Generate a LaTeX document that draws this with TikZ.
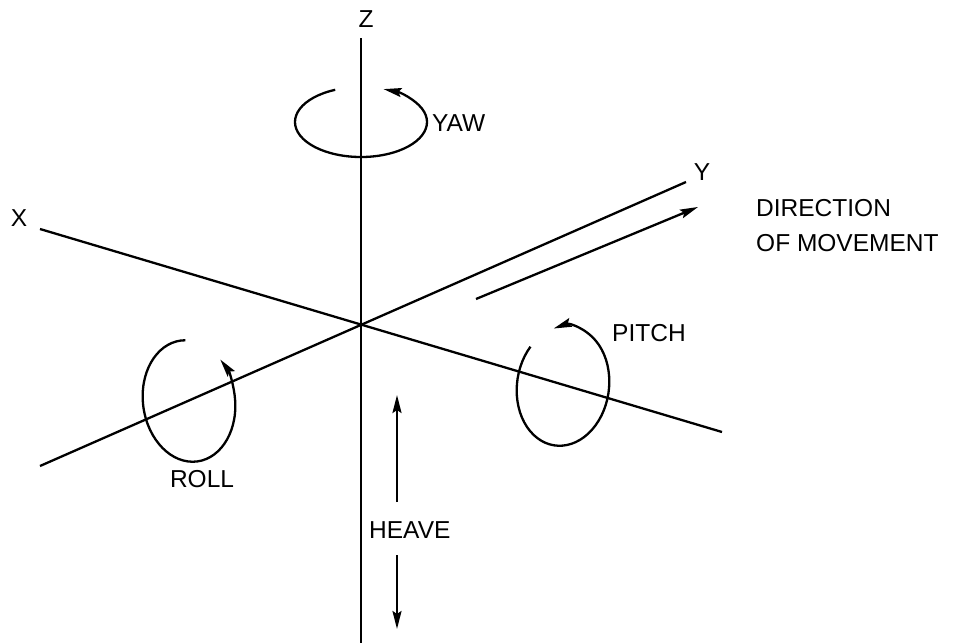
\documentclass[tikz,border=0pt]{standalone}
\usepackage{fontspec}
\setmainfont{Liberation Sans}
\usetikzlibrary{arrows.meta,calc}
\begin{document}
\begin{tikzpicture}[x=1pt,y=1pt,
  axis/.style={line width=2.3pt},
  lbl/.style={inner sep=0pt, font=\fontsize{24.5}{35}\selectfont},
  tip/.style={-{Stealth[length=18pt,width=9pt,inset=3pt]}},
  rot/.style={line width=2.3pt}]
\useasboundingbox (0,0) rectangle (954,-643);
% axes
\coordinate (O) at (361,-323);
\coordinate (Ztop) at (361,-38);
\coordinate (Zbot) at (361,-643);
\coordinate (Xend) at (40,-229);
\coordinate (Xneg) at (722,-432);
\coordinate (Yend) at (686,-182);
\coordinate (Yneg) at (40,-466);
\draw[axis] (Ztop) -- (Zbot);
\draw[axis] (Xend) -- (Xneg);
\draw[axis] (Yend) -- (Yneg);
% axis labels
\node[lbl] (zl) at (366,-19) {Z};
\node[lbl] (xl) at (19,-218) {X};
\node[lbl] (yl) at (702,-172) {Y};
% direction of movement
\coordinate (m1) at (476,-299);
\coordinate (m2) at (698,-207);
\draw[axis,tip] (m1) -- (m2);
\node[lbl, anchor=west, align=left] (dm) at (756,-226) {DIRECTION\\OF MOVEMENT};
% yaw
\coordinate (Yc) at (361,-122);
\draw[rot,tip] ($(Yc)+(113:66pt and 35pt)$) arc[start angle=113,end angle=430,x radius=66pt,y radius=35pt];
\node[lbl, anchor=west] (yaw) at (432,-123) {YAW};
% roll
\coordinate (Rc) at (189,-401);
\begin{scope}[shift={(Rc)}, rotate=8]
\draw[rot,tip] (84:46pt and 61pt) arc[start angle=84,end angle=397,x radius=46pt,y radius=61pt];
\end{scope}
\node[lbl] (roll) at (202,-479) {ROLL};
% pitch
\coordinate (Pc) at (563,-386);
\begin{scope}[shift={(Pc)}, rotate=-8]
\draw[rot,tip] (145:46pt and 60pt) arc[start angle=145,end angle=472,x radius=46pt,y radius=60pt];
\end{scope}
\node[lbl, anchor=west] (pitch) at (612,-333) {PITCH};
% heave
\coordinate (h1) at (397,-502);
\coordinate (h2) at (397,-395);
\coordinate (h3) at (397,-555);
\coordinate (h4) at (397,-629);
\draw[axis,tip] (h1) -- (h2);
\draw[axis,tip] (h3) -- (h4);
\node[lbl, anchor=west] (heave) at (369,-530) {HEAVE};
\end{tikzpicture}
\end{document}
